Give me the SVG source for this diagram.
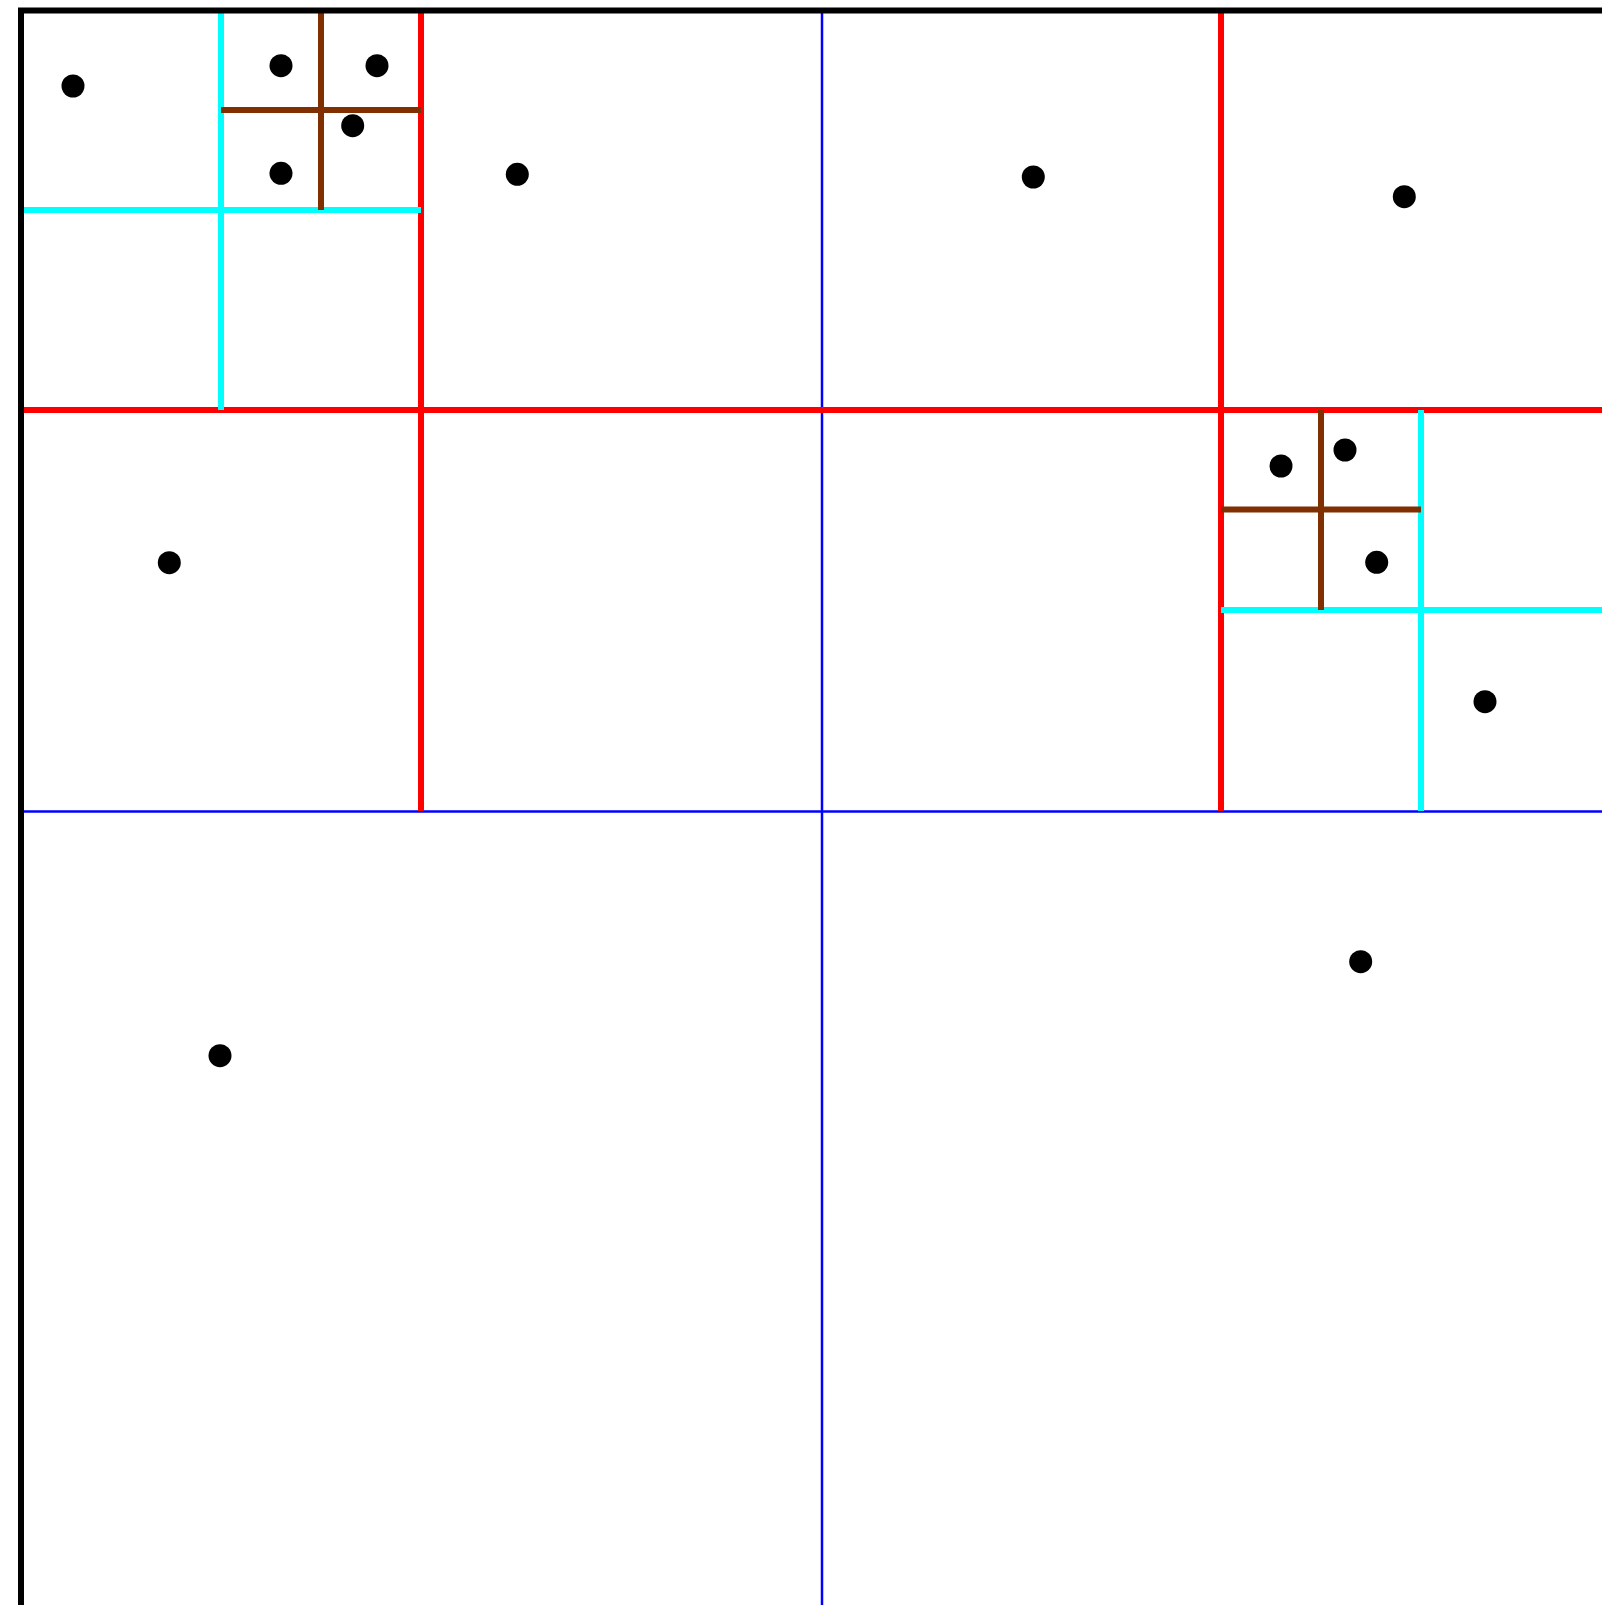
<svg xmlns="http://www.w3.org/2000/svg" width="1602" height="1605" viewBox="0 0 1602 1605">
  <style>
    .border { fill: none; stroke: #000000; stroke-width: 6; }
    .l0 { stroke: #0000ff; stroke-width: 2.5; fill: none; }
    .l1 { stroke: #ff0000; stroke-width: 6; fill: none; }
    .l2 { stroke: #00ffff; stroke-width: 6; fill: none; }
    .l3 { stroke: #803000; stroke-width: 6; fill: none; }
    .pt { fill: #000000; }
  </style>
  <rect x="0" y="0" width="1602" height="1605" fill="#ffffff"/>
  <g id="grid">
    <line class="l0" x1="822" y1="10" x2="822" y2="1605"/>
    <line class="l0" x1="21" y1="811.5" x2="1602" y2="811.5"/>
    <line class="l1" x1="21" y1="410" x2="1602" y2="410"/>
    <line class="l1" x1="421" y1="10" x2="421" y2="811"/>
    <line class="l1" x1="1221" y1="10" x2="1221" y2="811"/>
    <line class="l2" x1="221" y1="10" x2="221" y2="410"/>
    <line class="l2" x1="21" y1="210" x2="421" y2="210"/>
    <line class="l3" x1="321" y1="10" x2="321" y2="210"/>
    <line class="l3" x1="221" y1="110" x2="421" y2="110"/>
    <line class="l2" x1="1421" y1="410" x2="1421" y2="811"/>
    <line class="l2" x1="1221" y1="610" x2="1602" y2="610"/>
    <line class="l3" x1="1321" y1="410" x2="1321" y2="610"/>
    <line class="l3" x1="1221" y1="509.5" x2="1421" y2="509.5"/>
  </g>
  <path id="frame" class="border" d="M21,1605 V10.5 H1602"/>
  <g id="points">
    <circle class="pt" cx="73" cy="86" r="11.5"/>
    <circle class="pt" cx="281" cy="65.7" r="11.5"/>
    <circle class="pt" cx="377" cy="65.7" r="11.5"/>
    <circle class="pt" cx="352.7" cy="125.7" r="11.5"/>
    <circle class="pt" cx="281" cy="173.3" r="11.5"/>
    <circle class="pt" cx="517.3" cy="174.3" r="11.5"/>
    <circle class="pt" cx="1033.3" cy="177" r="11.5"/>
    <circle class="pt" cx="1404.3" cy="196.7" r="11.5"/>
    <circle class="pt" cx="169.3" cy="562.7" r="11.5"/>
    <circle class="pt" cx="1281" cy="466" r="11.5"/>
    <circle class="pt" cx="1345" cy="450" r="11.5"/>
    <circle class="pt" cx="1376.7" cy="562.3" r="11.5"/>
    <circle class="pt" cx="1485" cy="701.7" r="11.5"/>
    <circle class="pt" cx="220" cy="1055.7" r="11.5"/>
    <circle class="pt" cx="1360.7" cy="961.7" r="11.5"/>
  </g>
</svg>
